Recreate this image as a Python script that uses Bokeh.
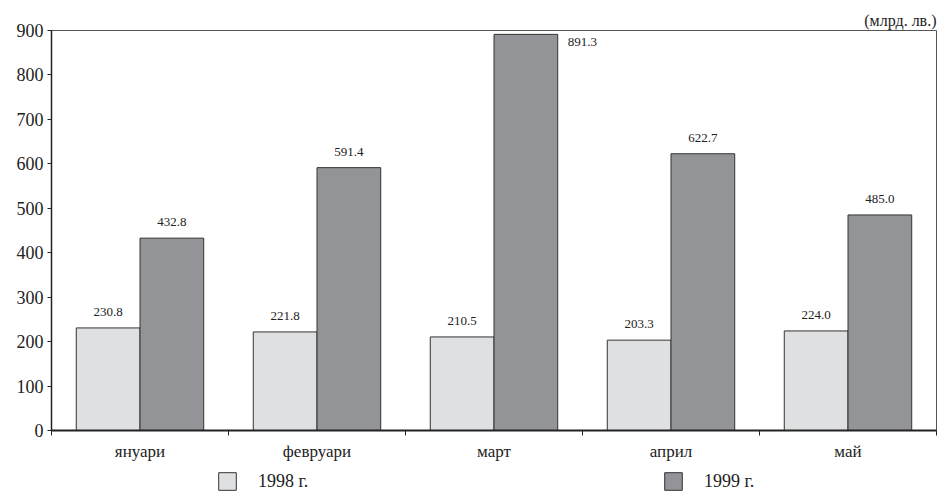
from bokeh.plotting import figure
from bokeh.layouts import column
from bokeh.models import (ColumnDataSource, Range1d, FixedTicker, Legend, LegendItem, Title)
from bokeh.core.properties import value
from bokeh.embed import file_html
from bokeh.resources import INLINE

months = ["януари", "февруари", "март", "април", "май"]
v1998 = [230.8, 221.8, 210.5, 203.3, 224.0]
v1999 = [432.8, 591.4, 891.3, 622.7, 485.0]
series_names = ["1998 г.", "1999 г."]
unit_text = "(млрд. лв.)"
y_ticks = [0, 100, 200, 300, 400, 500, 600, 700, 800, 900]

FONT = "Liberation Serif"
LIGHT = "#dfe0e2"
DARK = "#939498"
EDGE = "#333333"
BW = 0.36

n = len(months)
centers = [i + 0.5 for i in range(n)]

p = figure(width=937, height=463, output_backend="svg", toolbar_location=None,
           x_range=Range1d(0, n), y_range=Range1d(0, 900),
           min_border_left=51, min_border_right=1, min_border_top=30, min_border_bottom=32)

p.title = Title(text=unit_text, align="right", text_font=FONT, text_font_size="16px",
                text_font_style="normal", text_color="#222222", standoff=3, offset=0)

p.xgrid.visible = False
p.ygrid.visible = False
p.outline_line_color = "#555555"
p.outline_line_width = 1
p.background_fill_color = "white"
p.border_fill_color = "white"

src1 = ColumnDataSource(dict(x=[c - BW / 2 for c in centers], top=v1998,
                             lab=["%.1f" % v for v in v1998]))
src2 = ColumnDataSource(dict(x=[c + BW / 2 for c in centers], top=v1999,
                             lab=["%.1f" % v for v in v1999]))

r1 = p.vbar(x="x", top="top", width=BW, bottom=0, source=src1,
            fill_color=LIGHT, line_color=EDGE, line_width=1)
r2 = p.vbar(x="x", top="top", width=BW, bottom=0, source=src2,
            fill_color=DARK, line_color=EDGE, line_width=1)

# value labels
lim = 850
lab_x, lab_y, lab_t = [], [], []
side_x, side_y, side_t = [], [], []
for s in (src1, src2):
    for x, t, l in zip(s.data["x"], s.data["top"], s.data["lab"]):
        if t > lim:
            side_x.append(x + BW / 2); side_y.append(t); side_t.append(l)
        else:
            lab_x.append(x); lab_y.append(t); lab_t.append(l)

p.text(x=lab_x, y=lab_y, text=lab_t, text_align="center", text_baseline="middle",
       y_offset=-16, text_font=value(FONT), text_font_size="13px", text_color="#222222")
p.text(x=side_x, y=side_y, text=side_t, text_align="left", text_baseline="middle",
       x_offset=10, y_offset=8, text_font=value(FONT), text_font_size="13px", text_color="#222222")

# axes
xa = p.xaxis[0]
xa.ticker = FixedTicker(ticks=centers, minor_ticks=list(range(n + 1)))
xa.major_label_overrides = {c: m for c, m in zip(centers, months)}
xa.major_tick_out = 0
xa.major_tick_in = 0
xa.minor_tick_out = 5
xa.minor_tick_in = 0
xa.minor_tick_line_color = "#222222"
xa.axis_line_color = "#222222"
xa.axis_line_width = 2
xa.major_label_text_font = FONT
xa.major_label_text_font_size = "17px"
xa.major_label_text_color = "#222222"
xa.major_label_standoff = 6

ya = p.yaxis[0]
ya.ticker = FixedTicker(ticks=y_ticks)
ya.minor_tick_line_color = None
ya.major_tick_out = 4
ya.major_tick_in = 0
ya.major_tick_line_color = "#222222"
ya.axis_line_color = "#222222"
ya.axis_line_width = 1.5
ya.major_label_text_font = FONT
ya.major_label_text_font_size = "18px"
ya.major_label_text_color = "#222222"
ya.major_label_standoff = 4

# legend strip below the chart (proxy glyphs kept outside the visible range)
q = figure(width=937, height=30, output_backend="svg", toolbar_location=None,
           x_range=Range1d(0, 1), y_range=Range1d(0, 1),
           min_border_left=0, min_border_right=0, min_border_top=0, min_border_bottom=0)
q.axis.visible = False
q.grid.visible = False
q.outline_line_color = None
q.background_fill_color = "white"
q.border_fill_color = "white"
k1 = q.vbar(x=[0.5], top=[-5], bottom=-6, width=0.1, fill_color=LIGHT, line_color=EDGE, line_width=1)
k2 = q.vbar(x=[0.5], top=[-5], bottom=-6, width=0.1, fill_color=DARK, line_color=EDGE, line_width=1)
for rend, name, vx in ((k1, series_names[0], 165), (k2, series_names[1], 611)):
    lg = Legend(items=[LegendItem(label=name, renderers=[rend])],
                location=(vx, 1), orientation="horizontal",
                glyph_width=22, glyph_height=22, label_standoff=20,
                label_text_font=FONT, label_text_font_size="18px", label_text_color="#222222",
                padding=0, margin=0, border_line_color=None, background_fill_alpha=0)
    q.add_layout(lg, "center")

layout = column(p, q, spacing=0)
open("out.html", "w").write(file_html(layout, INLINE))
